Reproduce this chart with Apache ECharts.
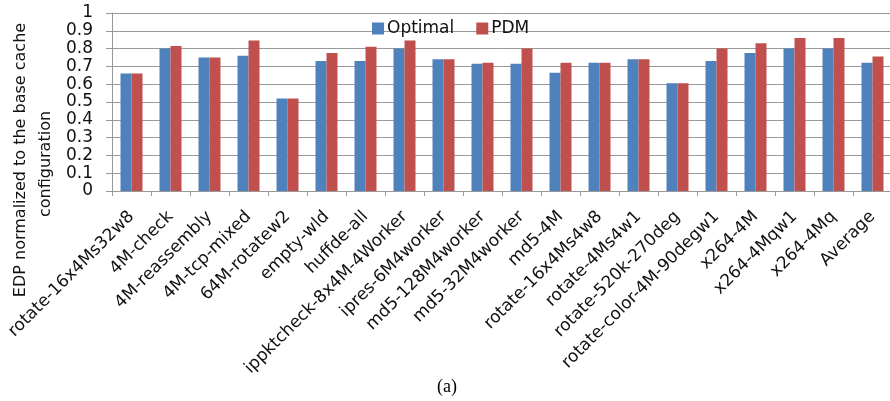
<!DOCTYPE html>
<html>
<head>
<meta charset="utf-8">
<script src="https://cdn.jsdelivr.net/npm/echarts@6/dist/echarts.min.js"></script>
<style>html,body{margin:0;padding:0;background:#fff}#c{width:890px;height:401px}</style>
</head>
<body>
<div id="c"></div>
<script>
const categories = ['rotate-16x4Ms32w8','4M-check','4M-reassembly','4M-tcp-mixed','64M-rotatew2','empty-wld','huffde-all','ippktcheck-8x4M-4Worker','ipres-6M4worker','md5-128M4worker','md5-32M4worker','md5-4M','rotate-16x4Ms4w8','rotate-4Ms4w1','rotate-520k-270deg','rotate-color-4M-90degw1','x264-4M','x264-4Mqw1','x264-4Mq','Average'];
const optimal = [0.66,0.80,0.75,0.76,0.52,0.73,0.73,0.80,0.74,0.715,0.715,0.665,0.72,0.74,0.605,0.73,0.775,0.80,0.80,0.72];
const pdm     = [0.66,0.815,0.75,0.845,0.52,0.775,0.81,0.845,0.74,0.72,0.80,0.72,0.72,0.74,0.605,0.80,0.83,0.86,0.86,0.755];
const seriesNames = ['Optimal','PDM'];
const yTitleLines = ['EDP normalized to the base cache','configuration'];
const caption = '(a)';

const FONT = 'DejaVu Sans';
const TXT = '#111';
const chart = echarts.init(document.getElementById('c'), null, {renderer:'canvas'});
chart.setOption({
  animation:false,
  backgroundColor:'#fff',
  grid:{left:112, right:-2, top:13, bottom:210, containLabel:false, outerBoundsMode:'none'},
  legend:{
    data:seriesNames, left:367, top:15, itemWidth:12, itemHeight:12, itemGap:22,
    icon:'rect', textStyle:{fontFamily:FONT, fontSize:17, color:TXT, padding:[0,0,0,-2]}
  },
  xAxis:{
    type:'category', data:categories,
    axisLine:{lineStyle:{color:'#999', width:1}},
    axisTick:{show:true, length:5, interval:0, lineStyle:{color:'#999'}},
    axisLabel:{interval:0, rotate:45, margin:23, fontFamily:FONT, fontSize:17, color:TXT}
  },
  yAxis:{
    type:'value', min:0, max:1, interval:0.1,
    axisLine:{show:true, lineStyle:{color:'#999'}},
    axisTick:{show:true, length:6, lineStyle:{color:'#999'}},
    splitLine:{show:true, lineStyle:{color:'#999', width:1}},
    axisLabel:{margin:19, fontFamily:FONT, fontSize:17, color:TXT,
      formatter:v=>String(Math.round(v*10)/10)}
  },
  series:[
    {name:seriesNames[0], type:'bar', data:optimal, barWidth:11, barGap:'0%', itemStyle:{color:'#4F81BD'}},
    {name:seriesNames[1], type:'bar', data:pdm, barWidth:11, barGap:'0%', itemStyle:{color:'#C0504D'}}
  ],
  graphic:[
    {type:'text', x:21, y:160, rotation:Math.PI/2,
      style:{text:yTitleLines[0], font:'16px "DejaVu Sans"', fill:TXT, textAlign:'center', textVerticalAlign:'middle'}},
    {type:'text', x:46, y:164, rotation:Math.PI/2,
      style:{text:yTitleLines[1], font:'16px "DejaVu Sans"', fill:TXT, textAlign:'center', textVerticalAlign:'middle'}},
    {type:'text', x:447, y:387,
      style:{text:caption, font:'18px "Liberation Serif"', fill:'#000', textAlign:'center', textVerticalAlign:'middle'}}
  ]
});
</script>
</body>
</html>
